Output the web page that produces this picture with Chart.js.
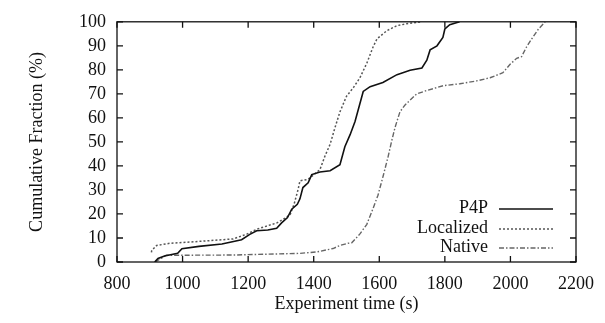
<!DOCTYPE html>
<html>
<head>
<meta charset="utf-8">
<script src="https://cdn.jsdelivr.net/npm/chart.js@4/dist/chart.umd.min.js"></script>
<style>
  html, body { margin: 0; padding: 0; background: #fff; }
  #wrap { width: 605px; height: 323px; }
</style>
</head>
<body>
<div id="wrap"><canvas id="cdfChart"></canvas></div>
<script>
// Experiment completion times (s) and cumulative fraction (%) for each scheme
const p4pTime = [915, 925, 945, 985, 998, 1050, 1120, 1180, 1205, 1226, 1260, 1287, 1302, 1320, 1333, 1350, 1358, 1367, 1383, 1394, 1419, 1450, 1480, 1495, 1511, 1526, 1541, 1551, 1572, 1611, 1654, 1694, 1730, 1745, 1755, 1776, 1794, 1800, 1815, 1845];
const p4pFrac = [0, 1.5, 2.5, 3.6, 5.5, 6.5, 7.5, 9.3, 11.5, 13, 13.3, 14, 16.3, 18.5, 22, 24, 26.3, 31, 33, 36.4, 37.5, 38, 40.5, 48, 53, 58.5, 66, 71, 73, 74.7, 78, 79.8, 80.8, 84, 88.3, 90, 93.5, 97, 98.8, 100];

const localTime = [905, 906, 921, 962, 1053, 1154, 1196, 1227, 1288, 1306, 1328, 1340, 1352, 1358, 1383, 1419, 1434, 1450, 1465, 1480, 1500, 1521, 1541, 1562, 1581, 1593, 1623, 1654, 1684, 1730];
const localFrac = [4, 4.8, 6.9, 7.8, 8.6, 9.6, 11.6, 13.7, 16.3, 17.7, 19.7, 24, 30, 33.8, 34.4, 38.5, 44, 49, 56, 62.5, 69, 72.6, 76.7, 82.8, 89.5, 92.9, 96.3, 98.4, 99.2, 100];

const nativeTime = [916, 935, 950, 1154, 1358, 1410, 1459, 1480, 1505, 1516, 1541, 1562, 1581, 1596, 1612, 1627, 1638, 1648, 1663, 1678, 1714, 1745, 1795, 1846, 1897, 1938, 1977, 1999, 2019, 2034, 2049, 2065, 2085, 2106];
const nativeFrac = [0, 1.5, 2.8, 2.9, 3.6, 4.2, 5.6, 6.9, 7.8, 8, 11.7, 15.7, 22.3, 27.8, 35.9, 43.9, 50.5, 56, 62.5, 65.3, 70, 71.4, 73.4, 74.2, 75.4, 76.7, 78.8, 82.3, 84.8, 85.5, 89.5, 92.9, 96.9, 100];

const seriesNames = ["P4P", "Localized", "Native"];
const xTicks = [800, 1000, 1200, 1400, 1600, 1800, 2000, 2200];
const yTicks = [0, 10, 20, 30, 40, 50, 60, 70, 80, 90, 100];

const serif = "'Liberation Serif', 'DejaVu Serif', serif";

function points(xs, ys) {
  return xs.map((x, i) => ({ x: x, y: ys[i] }));
}

// Box around the plot with gnuplot-style inward ticks, plus the legend
const framePlugin = {
  id: "frame",
  afterDraw(chart) {
    const ctx = chart.ctx;
    const a = chart.chartArea;
    const xs = chart.scales.x;
    const ys = chart.scales.y;
    const len = 6;
    ctx.save();
    ctx.strokeStyle = "#111";
    ctx.lineWidth = 1.3;
    ctx.strokeRect(a.left, a.top, a.right - a.left, a.bottom - a.top);
    ctx.beginPath();
    xTicks.forEach(v => {
      const px = xs.getPixelForValue(v);
      ctx.moveTo(px, a.bottom); ctx.lineTo(px, a.bottom - len);
      ctx.moveTo(px, a.top); ctx.lineTo(px, a.top + len);
    });
    yTicks.forEach(v => {
      const py = ys.getPixelForValue(v);
      ctx.moveTo(a.left, py); ctx.lineTo(a.left + len, py);
      ctx.moveTo(a.right, py); ctx.lineTo(a.right - len, py);
    });
    ctx.stroke();

    // legend: label on the left, line sample on the right
    ctx.font = "18px " + serif;
    ctx.fillStyle = "#111";
    ctx.textAlign = "right";
    ctx.textBaseline = "middle";
    const rowY = [a.bottom - 54, a.bottom - 34, a.bottom - 15];
    chart.data.datasets.forEach((ds, i) => {
      ctx.fillText(ds.label, a.right - 88, rowY[i]);
      ctx.beginPath();
      ctx.strokeStyle = ds.borderColor;
      ctx.lineWidth = ds.borderWidth;
      ctx.setLineDash(ds.borderDash || []);
      ctx.moveTo(a.right - 77, rowY[i] + 1);
      ctx.lineTo(a.right - 23, rowY[i] + 1);
      ctx.stroke();
    });
    ctx.restore();
  }
};

const data = {
  datasets: [
    {
      label: seriesNames[0],
      data: points(p4pTime, p4pFrac),
      borderColor: "#111",
      borderWidth: 1.6,
      borderDash: [],
    },
    {
      label: seriesNames[1],
      data: points(localTime, localFrac),
      borderColor: "#555",
      borderWidth: 1.5,
      borderDash: [2, 2],
    },
    {
      label: seriesNames[2],
      data: points(nativeTime, nativeFrac),
      borderColor: "#666",
      borderWidth: 1.4,
      borderDash: [5, 2, 1.5, 2],
    },
  ],
};

const tickFont = { family: serif, size: 18 };

const config = {
  type: "line",
  data: data,
  options: {
    responsive: true,
    maintainAspectRatio: false,
    animation: false,
    layout: { padding: { top: 14, right: 29, bottom: 0, left: 0 } },
    elements: { point: { radius: 0 }, line: { tension: 0 } },
    plugins: {
      legend: { display: false },
      tooltip: { enabled: false },
    },
    scales: {
      x: {
        type: "linear",
        min: 800,
        max: 2200,
        afterFit: s => { s.height = 61; },
        afterBuildTicks: s => { s.ticks = xTicks.map(v => ({ value: v })); },
        grid: { display: false, drawTicks: false, tickLength: 0 },
        border: { display: false },
        ticks: {
          color: "#111",
          font: tickFont,
          padding: 11,
          maxRotation: 0,
          autoSkip: false,
          callback: v => String(v),
        },
        title: {
          display: true,
          text: "Experiment time (s)",
          color: "#111",
          font: tickFont,
          padding: { top: 0, bottom: 8 },
        },
      },
      y: {
        type: "linear",
        min: 0,
        max: 100,
        afterFit: s => { s.width = 117; },
        afterBuildTicks: s => { s.ticks = yTicks.map(v => ({ value: v })); },
        grid: { display: false, drawTicks: false, tickLength: 0 },
        border: { display: false },
        ticks: {
          color: "#111",
          font: tickFont,
          padding: 11,
          autoSkip: false,
          callback: v => String(v),
        },
        title: {
          display: true,
          text: "Cumulative Fraction (%)",
          color: "#111",
          font: tickFont,
          padding: { top: 26, bottom: 0 },
        },
      },
    },
  },
  plugins: [framePlugin],
};

const ctx = document.getElementById("cdfChart").getContext("2d");
new Chart(ctx, config);
</script>
</body>
</html>
